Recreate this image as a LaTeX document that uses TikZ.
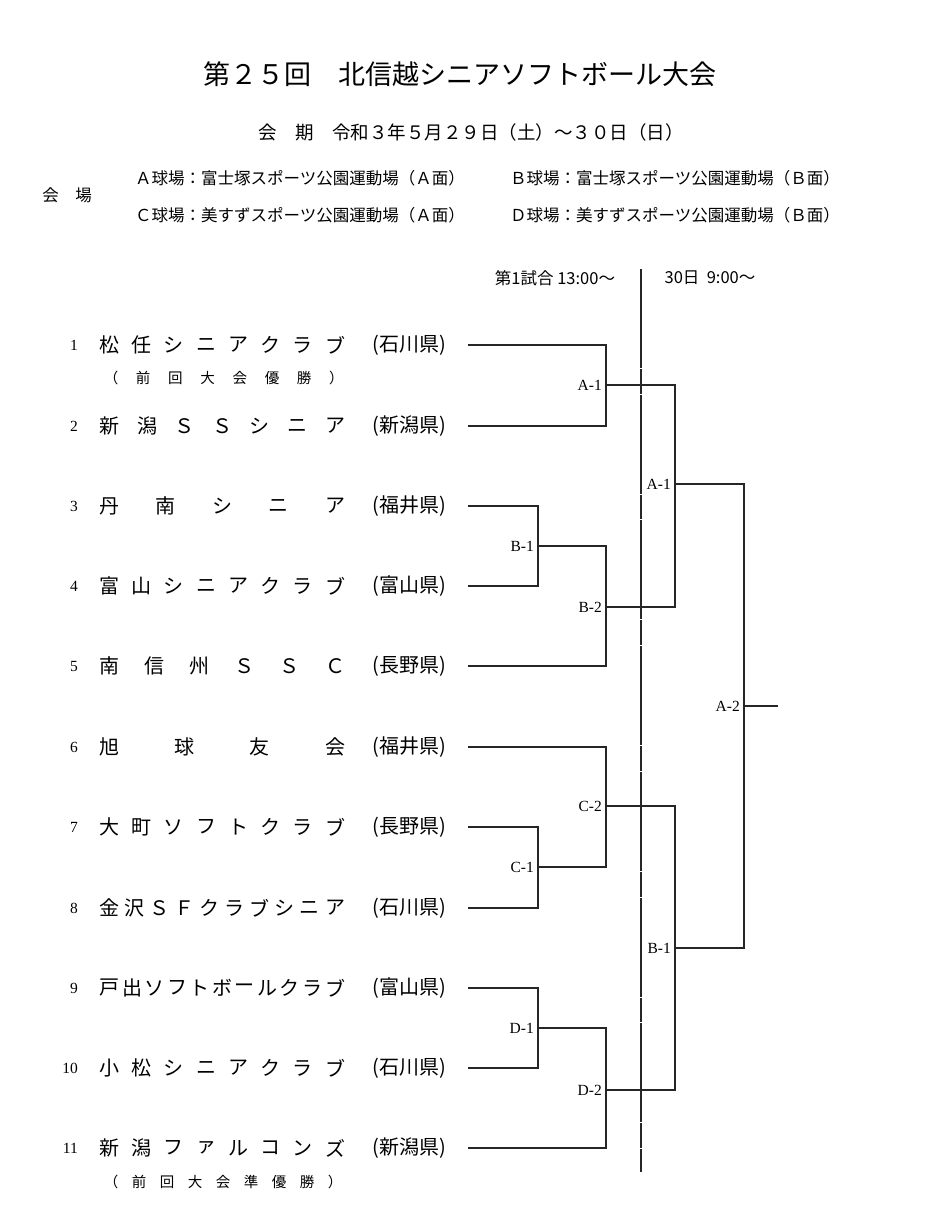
\documentclass[tikz,border=0pt]{standalone}
\usepackage{fontspec}
\setmainfont{Liberation Serif}
\newfontfamily\jp{Noto Sans CJK JP}
\tikzset{
  jptxt/.style={font=\jp, inner sep=0pt},
  brk/.style={line width=1.4pt, black!85},
  lbl/.style={font=\fontsize{15.5}{15.5}\selectfont, inner sep=0pt, anchor=east},
  num/.style={font=\fontsize{15.5}{15.5}\selectfont, inner sep=0pt, anchor=east},
}
\newcommand{\teamrow}[5]{% #1 index, #2 y, #3 n, #4 chars, #5 prefecture
  \node[num] (num#1) at (78,#2) {#1};
  \foreach \c [count=\i from 0] in {#4} {
    \node[jptxt, font=\jp\fontsize{20}{20}\selectfont] (n#1c\i) at ({109.5+\i*225.5/(#3-1)}, #2) {\c};
  }
  \node[jptxt, font=\jp\fontsize{20}{20}\selectfont] (p#1) at (409,#2) {(#5)};
  \coordinate (s#1) at (468,#2);
}
\begin{document}
\begin{tikzpicture}[x=1pt,y=-1pt]
\useasboundingbox[fill=white] (0,0) rectangle (930,1224);
% title
\node[jptxt, font=\jp\fontsize{27}{27}\selectfont] (title) at (460,74) {第２５回　北信越シニアソフトボール大会};
\node[jptxt, font=\jp\fontsize{18.5}{18.5}\selectfont] (date) at (471,132) {会　期　令和３年５月２９日（土）～３０日（日）};
\node[jptxt, font=\jp\fontsize{16.5}{16.5}\selectfont] (kaijo) at (67,195) {会　場};
\node[jptxt, font=\jp\fontsize{16.5}{16.5}\selectfont, anchor=west] (va) at (135,178) {Ａ球場：富士塚スポーツ公園運動場（Ａ面）};
\node[jptxt, font=\jp\fontsize{16.5}{16.5}\selectfont, anchor=west] (vb) at (510,178) {Ｂ球場：富士塚スポーツ公園運動場（Ｂ面）};
\node[jptxt, font=\jp\fontsize{16.5}{16.5}\selectfont, anchor=west] (vc) at (135,215) {Ｃ球場：美すずスポーツ公園運動場（Ａ面）};
\node[jptxt, font=\jp\fontsize{16.5}{16.5}\selectfont, anchor=west] (vd) at (510,215) {Ｄ球場：美すずスポーツ公園運動場（Ｂ面）};
% schedule headers
\node[jptxt, font=\jp\fontsize{16.5}{16.5}\selectfont] (h1) at (555,278) {第1試合 13:00～};
\node[jptxt, font=\jp\fontsize{16.5}{16.5}\selectfont] (h2) at (710,278) {30日\ \ 9:00～};
% divider
\coordinate (vtop) at (641,269);
\coordinate (vbot) at (641,1172);
\draw[brk, dash pattern=on 99pt off 1pt on 24.7pt off 1pt] (vtop) -- (vbot);
% teams
\teamrow{1}{345}{8}{松,任,シ,ニ,ア,ク,ラ,ブ}{石川県}
\teamrow{2}{426}{7}{新,潟,Ｓ,Ｓ,シ,ニ,ア}{新潟県}
\teamrow{3}{506}{5}{丹,南,シ,ニ,ア}{福井県}
\teamrow{4}{586}{8}{富,山,シ,ニ,ア,ク,ラ,ブ}{富山県}
\teamrow{5}{666}{6}{南,信,州,Ｓ,Ｓ,Ｃ}{長野県}
\teamrow{6}{747}{4}{旭,球,友,会}{福井県}
\teamrow{7}{827}{8}{大,町,ソ,フ,ト,ク,ラ,ブ}{長野県}
\teamrow{8}{908}{10}{金,沢,Ｓ,Ｆ,ク,ラ,ブ,シ,ニ,ア}{石川県}
\teamrow{9}{988}{11}{戸,出,ソ,フ,ト,ボ,ー,ル,ク,ラ,ブ}{富山県}
\teamrow{10}{1068}{8}{小,松,シ,ニ,ア,ク,ラ,ブ}{石川県}
\teamrow{11}{1148}{8}{新,潟,フ,ァ,ル,コ,ン,ズ}{新潟県}
% sub notes
\foreach \c [count=\i from 0] in {（,前,回,大,会,優,勝,）} {
  \node[jptxt, font=\jp\fontsize{14.5}{14.5}\selectfont] (w\i) at ({111+\i*32.2}, 378) {\c};
}
\foreach \c [count=\i from 0] in {（,前,回,大,会,準,優,勝,）} {
  \node[jptxt, font=\jp\fontsize{14.5}{14.5}\selectfont] (r\i) at ({111+\i*28}, 1182) {\c};
}
% bracket junctions
\coordinate (mA1) at (606,385);
\coordinate (mB1) at (538,546);
\coordinate (mB2) at (606,607);
\coordinate (mC1) at (538,867);
\coordinate (mC2) at (606,806);
\coordinate (mD1) at (538,1028);
\coordinate (mD2) at (606,1090);
\coordinate (rA1) at (675,484);
\coordinate (rB1) at (675,948);
\coordinate (fA2) at (744,706);
\coordinate (fin) at (778,706);
\draw[brk] (s1) -| (mA1) |- (s2);
\draw[brk] (s3) -| (mB1) |- (s4);
\draw[brk] (mB1) -| (mB2) |- (s5);
\draw[brk] (s6) -| (mC2) |- (mC1);
\draw[brk] (s7) -| (mC1) |- (s8);
\draw[brk] (s9) -| (mD1) |- (s10);
\draw[brk] (mD1) -| (mD2) |- (s11);
\draw[brk] (mA1) -| (rA1) |- (mB2);
\draw[brk] (mC2) -| (rB1) |- (mD2);
\draw[brk] (rA1) -| (fA2) |- (rB1);
\draw[brk] (fA2) -- (fin);
% match labels
\node[lbl] (lA1) at ([xshift=-4pt]mA1) {A-1};
\node[lbl] (lB1) at ([xshift=-4pt]mB1) {B-1};
\node[lbl] (lB2) at ([xshift=-4pt]mB2) {B-2};
\node[lbl] (lC1) at ([xshift=-4pt]mC1) {C-1};
\node[lbl] (lC2) at ([xshift=-4pt]mC2) {C-2};
\node[lbl] (lD1) at ([xshift=-4pt]mD1) {D-1};
\node[lbl] (lD2) at ([xshift=-4pt]mD2) {D-2};
\node[lbl] (lrA1) at ([xshift=-4pt]rA1) {A-1};
\node[lbl] (lrB1) at ([xshift=-4pt]rB1) {B-1};
\node[lbl] (lfA2) at ([xshift=-4pt]fA2) {A-2};
\end{tikzpicture}
\end{document}
